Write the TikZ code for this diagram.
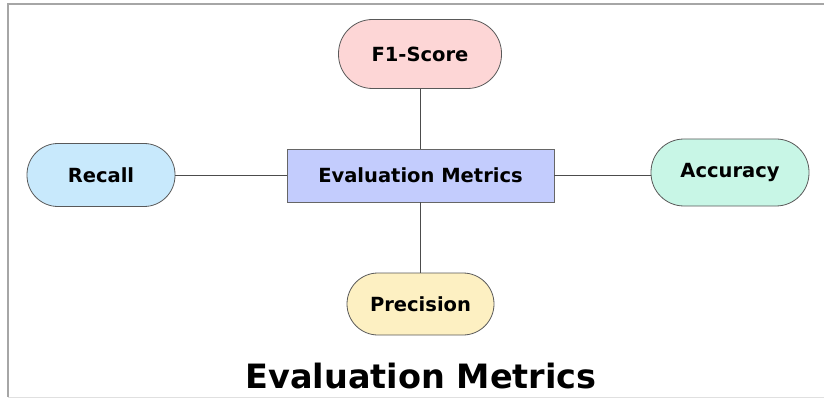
\documentclass[tikz,border=0pt]{standalone}
\usepackage{fontspec}
\setmainfont{DejaVu Sans}
\begin{document}
\begin{tikzpicture}[x=1pt,y=-1pt,
  pillbox/.style={draw=black!65,line width=0.8pt,inner sep=0pt,font=\fontsize{19.5}{21}\selectfont\bfseries},
  conn/.style={draw=black!70,line width=0.9pt}]
\useasboundingbox (0,0) rectangle (824,398);
\definecolor{pinkF}{HTML}{FDD6D6}
\definecolor{blueR}{HTML}{C8E9FC}
\definecolor{lavE}{HTML}{C3CCFD}
\definecolor{mintA}{HTML}{C8F6E6}
\definecolor{yelP}{HTML}{FDF0C2}
\draw[black!35,line width=1.5pt] (824,4) -- (8,4) -- (8,397);
\draw[black!12,line width=1pt] (8,397) -- (824,397);
\node[draw=black!60,line width=0.8pt,fill=lavE,minimum width=267pt,minimum height=53pt,inner sep=0pt,font=\fontsize{19.5}{21}\selectfont\bfseries] (em) at (420.5,175.5) {Evaluation Metrics};
\node[pillbox,fill=pinkF,rounded corners=34pt,minimum width=163pt,minimum height=69pt] (f1) at (420,54) {F1-Score};
\node[pillbox,fill=blueR,rounded corners=31pt,minimum width=148pt,minimum height=63pt] (rc) at (101,175) {Recall};
\node[pillbox,fill=mintA,rounded corners=33pt,minimum width=158pt,minimum height=67pt] (ac) at (730,172.5) {Accuracy};
\node[pillbox,fill=yelP,rounded corners=31pt,minimum width=147pt,minimum height=62pt] (pr) at (420.5,304) {Precision};
\draw[conn] (f1.south) -- (em.north -| f1.south);
\draw[conn] (rc.east) -- (rc.east -| em.west);
\draw[conn] (em.east) -- (em.east -| ac.west);
\draw[conn] (em.south) -- (pr.north -| em.south);
\node[font=\fontsize{33.5}{36}\selectfont\bfseries,anchor=base] (title) at (421,388) {Evaluation Metrics};
\end{tikzpicture}
\end{document}
